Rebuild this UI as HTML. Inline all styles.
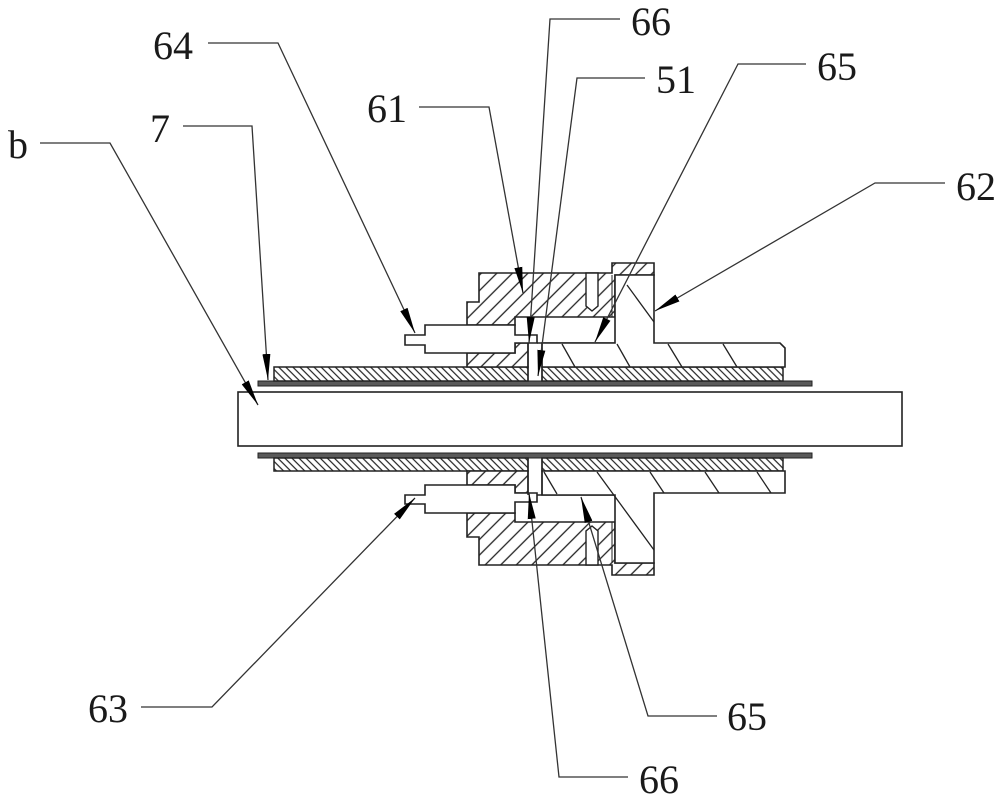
<!DOCTYPE html>
<html>
<head>
<meta charset="utf-8">
<style>
  html,body{margin:0;padding:0;background:#fff;}
  svg{display:block;}
  text{font-family:"Liberation Serif","DejaVu Serif",serif;font-size:40px;fill:#1a1a1a;}
</style>
</head>
<body>
<svg width="1000" height="799" viewBox="0 0 1000 799" xmlns="http://www.w3.org/2000/svg">
  <defs>
    <pattern id="h61" patternUnits="userSpaceOnUse" width="11" height="11" patternTransform="rotate(45)">
      <rect width="11" height="11" fill="#fff"/>
      <line x1="5.5" y1="0" x2="5.5" y2="11" stroke="#222" stroke-width="1.3"/>
    </pattern>
    <pattern id="hs" patternUnits="userSpaceOnUse" width="5" height="5" patternTransform="rotate(-45)">
      <rect width="5" height="5" fill="#fff"/>
      <line x1="2.5" y1="0" x2="2.5" y2="5" stroke="#222" stroke-width="1.2"/>
    </pattern>
    <marker id="ah" markerUnits="userSpaceOnUse" markerWidth="27" markerHeight="10" refX="26" refY="0" viewBox="0 -5 27 10" orient="auto">
      <path d="M0,-4 L26,0 L0,4 Z" fill="#000"/>
    </marker>
  </defs>

  <rect width="1000" height="799" fill="#fff"/>

  <!-- shaft b -->
  <rect x="238" y="392" width="664" height="54" fill="#fff" stroke="#222" stroke-width="1.6"/>

  <!-- thin strips (7) -->
  <rect x="258" y="381" width="554" height="5" fill="#5a5a5a" stroke="#222" stroke-width="1"/>
  <rect x="258" y="453" width="554" height="5" fill="#5a5a5a" stroke="#222" stroke-width="1"/>

  <!-- hatched sleeves -->
  <rect x="274" y="367" width="254" height="14" fill="url(#hs)" stroke="#222" stroke-width="1.5"/>
  <rect x="542" y="367" width="241" height="14" fill="url(#hs)" stroke="#222" stroke-width="1.5"/>
  <rect x="274" y="458" width="254" height="13" fill="url(#hs)" stroke="#222" stroke-width="1.5"/>
  <rect x="542" y="458" width="241" height="13" fill="url(#hs)" stroke="#222" stroke-width="1.5"/>

  <!-- housing 61 upper -->
  <polygon points="479,273 612,273 612,263 654,263 654,275 615,275 615,317 515,317 515,325 467,325 467,302 479,302" fill="url(#h61)" stroke="#222" stroke-width="1.6"/>
  <polygon points="467,353 515,353 515,343 528,343 528,367 467,367" fill="url(#h61)" stroke="#222" stroke-width="1.6"/>
  <line x1="612" y1="275" x2="612" y2="317" stroke="#222" stroke-width="1"/>
  <!-- bore upper -->
  <polygon points="586,273 598,273 598,306 592,311 586,306" fill="#fff" stroke="#222" stroke-width="1.4"/>

  <!-- housing 61 lower -->
  <polygon points="467,513 515,513 515,522 615,522 615,563 654,563 654,575 612,575 612,565 479,565 479,537 467,537" fill="url(#h61)" stroke="#222" stroke-width="1.6"/>
  <polygon points="467,471 528,471 528,493 515,493 515,485 467,485" fill="url(#h61)" stroke="#222" stroke-width="1.6"/>
  <line x1="612" y1="522" x2="612" y2="563" stroke="#222" stroke-width="1"/>
  <!-- bore lower -->
  <polygon points="586,565 586,531 592,526 598,531 598,565" fill="#fff" stroke="#222" stroke-width="1.4"/>

  <!-- bolt upper (64) -->
  <polygon points="405,335 425,335 425,325 515,325 515,335 537,335 537,343 515,343 515,353 425,353 425,345 405,345" fill="#fff" stroke="#222" stroke-width="1.6"/>
  <!-- bolt lower (63) -->
  <polygon points="405,495 425,495 425,485 515,485 515,493 537,493 537,502 515,502 515,513 425,513 425,504 405,504" fill="#fff" stroke="#222" stroke-width="1.6"/>

  <!-- cavity lines -->
  <line x1="537" y1="343" x2="615" y2="343" stroke="#222" stroke-width="1.6"/>
  <line x1="537" y1="495" x2="615" y2="495" stroke="#222" stroke-width="1.6"/>

  <!-- part 62 upper -->
  <polygon points="542,343 615,343 615,275 654,275 654,343 780,343 785,348 785,367 542,367" fill="#fff" stroke="#222" stroke-width="1.6"/>
  <g stroke="#222" stroke-width="1.3">
    <line x1="562" y1="344" x2="575" y2="367"/>
    <line x1="617" y1="344" x2="630" y2="367"/>
    <line x1="668" y1="344" x2="682" y2="367"/>
    <line x1="723" y1="344" x2="737" y2="367"/>
    <line x1="627" y1="285" x2="654" y2="322"/>
  </g>

  <!-- part 62 lower -->
  <polygon points="542,471 785,471 785,493 654,493 654,563 615,563 615,495 542,495" fill="#fff" stroke="#222" stroke-width="1.6"/>
  <g stroke="#222" stroke-width="1.3">
    <line x1="544" y1="472" x2="557" y2="494"/>
    <line x1="597" y1="472" x2="654" y2="550"/>
    <line x1="650" y1="472" x2="664" y2="493"/>
    <line x1="705" y1="472" x2="719" y2="493"/>
    <line x1="757" y1="472" x2="771" y2="493"/>
  </g>

  <!-- channel lines -->
  <g stroke="#222" stroke-width="1.4">
    <line x1="528" y1="343" x2="528" y2="381"/>
    <line x1="542" y1="343" x2="542" y2="381"/>
    <line x1="528" y1="458" x2="528" y2="495"/>
    <line x1="542" y1="458" x2="542" y2="495"/>
  </g>

  <!-- leaders -->
  <g fill="none" stroke="#333" stroke-width="1.3" marker-end="url(#ah)">
    <path d="M40,143 L110,143 L258,405"/>
    <path d="M183,126 L252,126 L268,380"/>
    <path d="M208,43 L278,43 L415,333"/>
    <path d="M419,107 L489,107 L523,293"/>
    <path d="M620,19 L550,19 L529,343"/>
    <path d="M645,78 L577,78 L538,376"/>
    <path d="M806,64 L738,64 L595,342"/>
    <path d="M945,183 L875,183 L655,311"/>
    <path d="M141,707 L212,707 L415,498"/>
    <path d="M628,777 L559,777 L529,493"/>
    <path d="M717,716 L648,716 L581,497"/>
  </g>

  <!-- labels -->
  <text x="8" y="158">b</text>
  <text x="150" y="142">7</text>
  <text x="153" y="59">64</text>
  <text x="367" y="122">61</text>
  <text x="631" y="35">66</text>
  <text x="656" y="93">51</text>
  <text x="817" y="80">65</text>
  <text x="956" y="200">62</text>
  <text x="88" y="722">63</text>
  <text x="727" y="730">65</text>
  <text x="639" y="793">66</text>
</svg>
</body>
</html>
